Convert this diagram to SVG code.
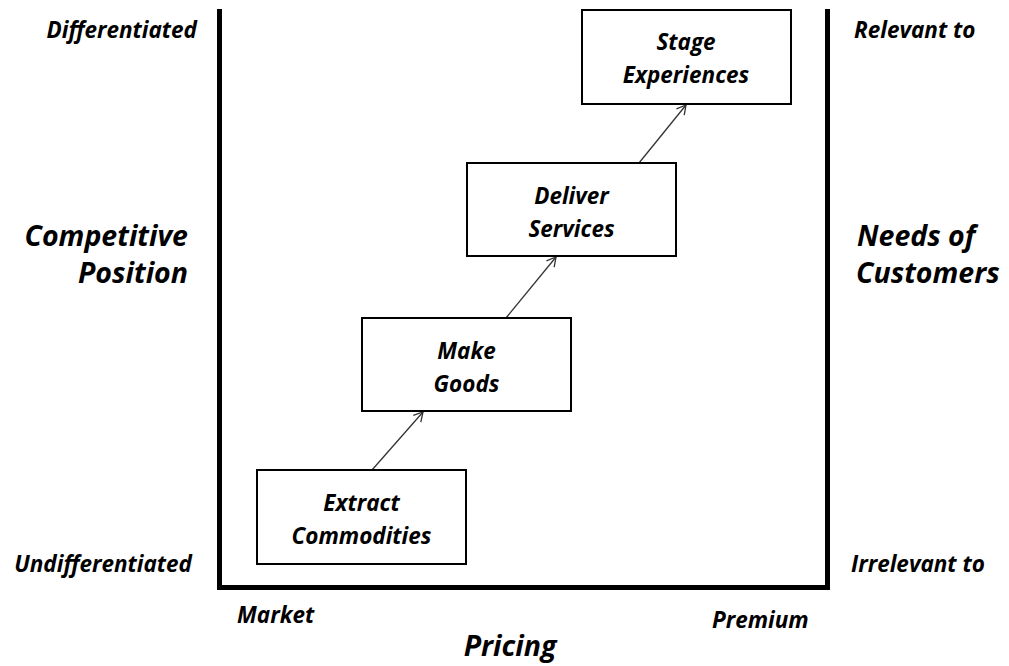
<svg xmlns="http://www.w3.org/2000/svg" width="1009" height="666" viewBox="0 0 1009 666">
<defs>
<style>
text{font-family:"Open Sans","Liberation Sans",sans-serif;font-weight:bold;font-style:italic;fill:#000}
.s{font-size:22.5px}
.b{font-size:28.5px}
.n{font-size:22.5px;text-anchor:middle}
.box{fill:#fff;stroke:#000;stroke-width:2}
.ax{fill:none;stroke:#000;stroke-width:5}
.ar{stroke:#333;stroke-width:1.3;fill:none}
</style>
<marker id="ah" markerWidth="12" markerHeight="12" refX="10" refY="6" orient="auto" markerUnits="userSpaceOnUse">
<path d="M1,1 L10,6 L1,11" fill="none" stroke="#333" stroke-width="1.3"/>
</marker>
</defs>
<rect width="1009" height="666" fill="#fff"/>
<g id="axes">
<path class="ax" d="M219.5,9 V587.5 H827.5 V9"/>
</g>
<g id="labels">
<text class="s" x="197" y="38" text-anchor="end">Differentiated</text>
<text class="s" x="192" y="572" text-anchor="end">Undifferentiated</text>
<text class="s" x="854" y="38">Relevant to</text>
<text class="s" x="851" y="572">Irrelevant to</text>
<text class="b" x="188" y="246" text-anchor="end">Competitive</text>
<text class="b" x="188" y="283" text-anchor="end">Position</text>
<text class="b" x="857" y="246">Needs of</text>
<text class="b" x="856" y="283">Customers</text>
<text class="s" x="237" y="623">Market</text>
<text class="s" x="712" y="628">Premium</text>
<text class="b" x="510" y="656" text-anchor="middle">Pricing</text>
</g>
<g id="connectors">
<line class="ar" x1="372" y1="470" x2="423" y2="412" marker-end="url(#ah)"/>
<line class="ar" x1="506" y1="318" x2="556" y2="257" marker-end="url(#ah)"/>
<line class="ar" x1="639" y1="163" x2="686" y2="105" marker-end="url(#ah)"/>
</g>
<g id="stage">
<rect class="box" x="582" y="10" width="209" height="94"/>
<text class="n" x="686" y="50">Stage</text>
<text class="n" x="686" y="83">Experiences</text>
</g>
<g id="deliver">
<rect class="box" x="467" y="163" width="209" height="93"/>
<text class="n" x="571.5" y="204">Deliver</text>
<text class="n" x="571.5" y="237">Services</text>
</g>
<g id="make">
<rect class="box" x="362" y="318" width="209" height="93"/>
<text class="n" x="466.5" y="359">Make</text>
<text class="n" x="466.5" y="392">Goods</text>
</g>
<g id="extract">
<rect class="box" x="257" y="470" width="209" height="94"/>
<text class="n" x="361.5" y="511">Extract</text>
<text class="n" x="361.5" y="544">Commodities</text>
</g>
</svg>
